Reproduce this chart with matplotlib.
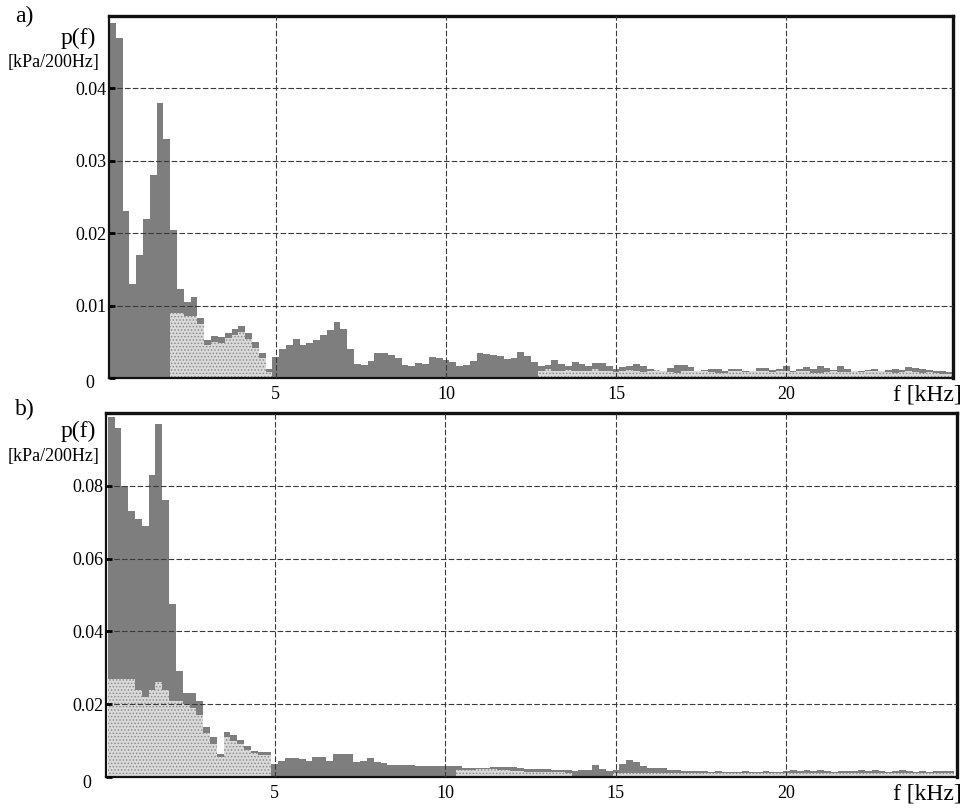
import numpy as np
import matplotlib
matplotlib.use("Agg")
import matplotlib.pyplot as plt
import matplotlib.transforms as mtransforms

plt.rcParams['font.family'] = ['Liberation Serif', 'DejaVu Serif']
plt.rcParams['hatch.color'] = '#8c8c8c'
plt.rcParams['hatch.linewidth'] = 0.7

# band centres, 200 Hz wide (kHz)
freq = np.round(np.arange(1, 125) * 0.2, 1)

# a) spectrum, kPa per 200 Hz band
p_a = [
    0.049, 0.047, 0.023, 0.013, 0.017, 0.022, 0.028, 0.038, 0.033, 0.0205,
    0.0123, 0.0105, 0.0112, 0.0083, 0.0053, 0.0058, 0.0056, 0.0062, 0.0068, 0.0072,
    0.0062, 0.0050, 0.0035, 0.0012, 0.0029,
    0.0040, 0.0046, 0.0054, 0.0045, 0.0049, 0.0052, 0.0060, 0.0066, 0.0078, 0.0068,
    0.0040, 0.0020, 0.0018, 0.0024, 0.0034, 0.0034, 0.0032, 0.0027, 0.0018, 0.0016,
    0.0021, 0.0020, 0.0029, 0.0027,
    0.0025, 0.0022, 0.0016, 0.0018, 0.0024, 0.0034, 0.0033, 0.0032, 0.0030, 0.0026,
    0.0028, 0.0036, 0.0031, 0.0022, 0.0016, 0.0018, 0.0025, 0.0020, 0.0017, 0.0022,
    0.0020, 0.0017, 0.0021, 0.0021, 0.0016,
    0.0012, 0.0015, 0.0016, 0.0019, 0.0017, 0.0012, 0.0010, 0.0009, 0.0014, 0.0018,
    0.0018, 0.0015, 0.0010, 0.0011, 0.0013, 0.0012, 0.0009, 0.0012, 0.0012, 0.0010,
    0.0009, 0.0014, 0.0014, 0.0011, 0.0012,
    0.0016, 0.0010, 0.0012, 0.0015, 0.0012, 0.0017, 0.0014, 0.0011, 0.0016, 0.0012,
    0.0010, 0.0009, 0.0011, 0.0013, 0.0010, 0.0011, 0.0013, 0.0011, 0.0015, 0.0014,
    0.0012, 0.0011, 0.0009, 0.0009, 0.0008,
]
# a) lighter (stippled) part under the dark one
p_a_light = [0.0] * 9 + [
    0.0090, 0.0090, 0.0085, 0.0085, 0.0075, 0.0045, 0.0050, 0.0048, 0.0055, 0.0060,
    0.0064, 0.0054, 0.0042, 0.0028, 0.0008,
] + [0.0] * 39 + [
    0.0010, 0.0012, 0.0010, 0.0009, 0.0011, 0.0010, 0.0009, 0.0010, 0.0012, 0.0010,
    0.0009, 0.0008, 0.0010, 0.0011, 0.0009, 0.0008, 0.0010, 0.0011, 0.0010, 0.0008,
    0.0007, 0.0010, 0.0009, 0.0010, 0.0009, 0.0008, 0.0007, 0.0007, 0.0009, 0.0009,
    0.0008, 0.0010, 0.0009, 0.0010, 0.0008, 0.0010, 0.0009, 0.0008, 0.0010, 0.0009,
    0.0007, 0.0007, 0.0008, 0.0009, 0.0008, 0.0008, 0.0009, 0.0008, 0.0010, 0.0010,
    0.0009, 0.0008, 0.0007, 0.0008, 0.0009, 0.0008, 0.0007, 0.0008, 0.0007, 0.0006,
    0.0006,
]

# b) spectrum
p_b = [
    0.099, 0.096, 0.080, 0.073, 0.071, 0.069, 0.083, 0.097, 0.076, 0.0475,
    0.029, 0.023, 0.023, 0.021, 0.0138, 0.011, 0.0064, 0.0124, 0.0115, 0.0103,
    0.0085, 0.0072, 0.0068, 0.0068, 0.0035,
    0.0045, 0.0052, 0.0052, 0.0050, 0.0043, 0.0055, 0.0055, 0.0045, 0.0064, 0.0064,
    0.0062, 0.0040, 0.0045, 0.0052, 0.0040, 0.0038, 0.0034, 0.0033, 0.0032, 0.0032,
    0.0031, 0.0031, 0.0030, 0.0030,
    0.0030, 0.0030, 0.0029, 0.0025, 0.0024, 0.0025, 0.0024, 0.0028, 0.0028, 0.0027,
    0.0027, 0.0026, 0.0022, 0.0022, 0.0021, 0.0021, 0.0019, 0.0018, 0.0018, 0.0017,
    0.0018, 0.0020, 0.0032, 0.0022, 0.0016,
    0.0019, 0.0036, 0.0046, 0.0042, 0.0030, 0.0025, 0.0026, 0.0024, 0.0020, 0.0018,
    0.0017, 0.0016, 0.0017, 0.0016, 0.0015, 0.0016, 0.0015, 0.0014, 0.0015, 0.0016,
    0.0014, 0.0015, 0.0016, 0.0014, 0.0015,
    0.0016, 0.0018, 0.0017, 0.0019, 0.0016, 0.0018, 0.0017, 0.0015, 0.0016, 0.0017,
    0.0016, 0.0018, 0.0017, 0.0019, 0.0016, 0.0015, 0.0017, 0.0018, 0.0016, 0.0015,
    0.0016, 0.0015, 0.0017, 0.0017, 0.0016,
]
p_b_light = [
    0.027, 0.027, 0.027, 0.027, 0.024, 0.022, 0.024, 0.026, 0.024, 0.021,
    0.021, 0.020, 0.019, 0.017, 0.012, 0.009, 0.0055, 0.011, 0.010, 0.009,
    0.0075, 0.0065, 0.0060, 0.0060,
] + [0.0] * 27 + [
    0.0020, 0.0018, 0.0019, 0.0021, 0.0022, 0.0021, 0.0020, 0.0018, 0.0017, 0.0016,
    0.0015, 0.0014, 0.0014, 0.0013, 0.0013, 0.0014, 0.0012,
] + [0.0] * 6 + [0.0012] * 50

edges = np.append(freq - 0.1, freq[-1] + 0.1)

a_ticks = [0, 0.01, 0.02, 0.03, 0.04]
b_ticks = [0, 0.02, 0.04, 0.06, 0.08]
x_ticks = [5, 10, 15, 20]

W, H = 971, 809
fig = plt.figure(figsize=(W / 100, H / 100), dpi=100)
ax1 = fig.add_axes([109 / W, 1 - 378 / H, 844 / W, 362 / H])
ax2 = fig.add_axes([106 / W, 1 - 777 / H, 851 / W, 364 / H])

panels = [
    (ax1, p_a, p_a_light, a_ticks, (0.1, 24.9), 0.05, 'a)', 16, 378),
    (ax2, p_b, p_b_light, b_ticks, (0.05, 25.0), 0.1, 'b)', 409, 777),
]

for ax, p, pl, yt, xl, ymax, tag, ytop, ybot in panels:
    ax.stairs(p, edges, fill=True, color='#7e7e7e', linewidth=0)
    ax.stairs(pl, edges, fill=True, facecolor='#dadada', edgecolor='#8c8c8c',
              hatch='.....', linewidth=0)
    ax.set_xlim(*xl)
    ax.set_ylim(0, ymax)
    ax.set_xticks(x_ticks, [str(t) for t in x_ticks])
    ax.set_yticks(yt, ['0'] + ['%g' % t for t in yt[1:]])
    ax.set_axisbelow(False)
    ax.grid(True, color='#3a3a3a', linestyle=(0, (5, 2)), linewidth=0.8)
    ax.tick_params(axis='x', length=0, pad=6, labelsize=13)
    ax.tick_params(axis='y', length=4, width=2, direction='in', pad=2, labelsize=13)
    # the zero label sits a little lower and further left
    zero = ax.get_yticklabels()[0]
    zero.set_transform(zero.get_transform() +
                       mtransforms.ScaledTranslation(-0.12, -0.04, fig.dpi_scale_trans))
    for side in ['top', 'right']:
        ax.spines[side].set_linewidth(2.4)
    for side in ['left', 'bottom']:
        ax.spines[side].set_linewidth(1.6)
    for s in ax.spines.values():
        s.set_color('#111111')

    fig.text(15 / W, 1 - ytop / H, tag, fontsize=17, va='center', ha='left')
    fig.text(78 / W, 1 - (ytop + 22) / H, 'p(f)', fontsize=17, va='center', ha='center')
    fig.text(99 / W, 1 - (ytop + 47) / H, '[kPa/200Hz]', fontsize=13, va='center', ha='right')
    fig.text(962 / W, 1 - (ybot + 17) / H, 'f [kHz]', fontsize=17, va='center', ha='right')

fig.savefig('out.png', dpi=100)
